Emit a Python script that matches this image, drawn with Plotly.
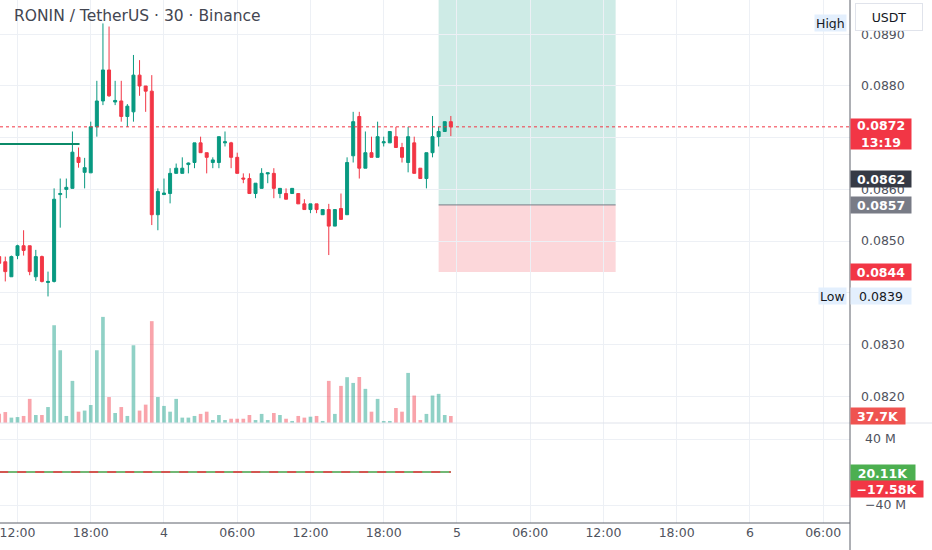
import pandas as pd
import plotly.graph_objects as go

FONT = "DejaVu Sans"
GREEN = "#089981"
RED = "#f23645"
GRID = "#edf0f5"
TEXT = "#50535e"

# --- data (30 min bars, RONIN/USDT) ---
times = pd.date_range("2024-08-03 10:30", periods=75, freq="30min")

opens = [0.08470, 0.08460, 0.08431, 0.08472, 0.08491, 0.08491, 0.08431, 0.08470, 0.08420, 0.08422,
         0.08590, 0.08600, 0.08602, 0.08662, 0.08633, 0.08632, 0.08721, 0.08771, 0.08831, 0.08769,
         0.08771, 0.08741, 0.08750, 0.08821, 0.08800, 0.08790, 0.08551, 0.08590, 0.08592, 0.08631,
         0.08631, 0.08648, 0.08652, 0.08690, 0.08671, 0.08652, 0.08652, 0.08690, 0.08690, 0.08662,
         0.08622, 0.08621, 0.08592, 0.08602, 0.08630, 0.08631, 0.08592, 0.08592, 0.08592, 0.08592,
         0.08572, 0.08561, 0.08572, 0.08551, 0.08561, 0.08529, 0.08563, 0.08551, 0.08665, 0.08741,
         0.08641, 0.08671, 0.08662, 0.08690, 0.08690, 0.08702, 0.08681, 0.08652, 0.08690, 0.08641,
         0.08621, 0.08671, 0.08702, 0.08712, 0.08731]
highs = [0.08475, 0.08470, 0.08472, 0.08493, 0.08521, 0.08491, 0.08483, 0.08472, 0.08441, 0.08602,
         0.08621, 0.08621, 0.08712, 0.08681, 0.08661, 0.08731, 0.08810, 0.08921, 0.08915, 0.08810,
         0.08810, 0.08765, 0.08860, 0.08850, 0.08800, 0.08821, 0.08602, 0.08621, 0.08641, 0.08650,
         0.08662, 0.08652, 0.08690, 0.08702, 0.08671, 0.08662, 0.08702, 0.08712, 0.08692, 0.08671,
         0.08631, 0.08631, 0.08612, 0.08641, 0.08632, 0.08641, 0.08602, 0.08602, 0.08602, 0.08592,
         0.08581, 0.08572, 0.08572, 0.08561, 0.08572, 0.08561, 0.08592, 0.08662, 0.08750, 0.08750,
         0.08712, 0.08702, 0.08731, 0.08702, 0.08712, 0.08721, 0.08690, 0.08721, 0.08702, 0.08641,
         0.08671, 0.08742, 0.08721, 0.08731, 0.08742]
lows = [0.08455, 0.08422, 0.08431, 0.08465, 0.08472, 0.08434, 0.08423, 0.08420, 0.08393, 0.08420,
        0.08526, 0.08583, 0.08602, 0.08642, 0.08602, 0.08632, 0.08702, 0.08763, 0.08779, 0.08763,
        0.08731, 0.08721, 0.08731, 0.08781, 0.08750, 0.08531, 0.08521, 0.08590, 0.08573, 0.08631,
        0.08631, 0.08631, 0.08641, 0.08671, 0.08631, 0.08641, 0.08641, 0.08683, 0.08641, 0.08631,
        0.08612, 0.08592, 0.08583, 0.08602, 0.08612, 0.08583, 0.08583, 0.08581, 0.08592, 0.08572,
        0.08561, 0.08554, 0.08554, 0.08551, 0.08473, 0.08529, 0.08542, 0.08551, 0.08652, 0.08621,
        0.08641, 0.08662, 0.08662, 0.08683, 0.08690, 0.08681, 0.08652, 0.08633, 0.08631, 0.08621,
        0.08602, 0.08662, 0.08683, 0.08712, 0.08703]
closes = [0.08457, 0.08441, 0.08470, 0.08491, 0.08482, 0.08441, 0.08470, 0.08422, 0.08422, 0.08581,
          0.08592, 0.08604, 0.08672, 0.08652, 0.08642, 0.08721, 0.08771, 0.08831, 0.08781, 0.08772,
          0.08741, 0.08761, 0.08821, 0.08800, 0.08790, 0.08551, 0.08596, 0.08593, 0.08631, 0.08641,
          0.08641, 0.08651, 0.08690, 0.08671, 0.08662, 0.08657, 0.08702, 0.08692, 0.08662, 0.08631,
          0.08620, 0.08592, 0.08612, 0.08631, 0.08632, 0.08602, 0.08602, 0.08581, 0.08602, 0.08572,
          0.08561, 0.08572, 0.08561, 0.08561, 0.08529, 0.08561, 0.08542, 0.08652, 0.08731, 0.08641,
          0.08671, 0.08662, 0.08702, 0.08692, 0.08712, 0.08681, 0.08662, 0.08702, 0.08631, 0.08621,
          0.08671, 0.08702, 0.08712, 0.08731, 0.08721]
# volume in thousands
volume_k = [50, 59, 29, 32, 38, 130, 43, 43, 86, 527,
            392, 38, 227, 61, 67, 97, 392, 572, 140, 54,
            86, 38, 419, 67, 99, 549, 140, 92, 61, 130,
            29, 29, 38, 49, 61, 16, 43, 16, 23, 23,
            23, 43, 16, 49, 16, 54, 43, 23, 11, 38,
            29, 34, 38, 11, 227, 49, 200, 247, 216, 248,
            184, 61, 130, 11, 11, 81, 61, 270, 148, 16,
            49, 148, 157, 43, 37.7]
# lower pane (buy / sell volume, thousands)
buy_k = [22, 25, 18, 20, 15, 60, 25, 18, 48, 300,
         210, 22, 130, 26, 38, 55, 230, 320, 62, 30,
         40, 22, 240, 30, 45, 230, 80, 50, 33, 72,
         16, 17, 22, 24, 28, 9, 24, 9, 11, 11,
         11, 20, 9, 27, 9, 25, 23, 11, 6, 18,
         13, 18, 18, 6, 105, 27, 95, 140, 120, 115,
         100, 30, 70, 6, 6, 38, 29, 150, 70, 8,
         27, 80, 85, 23, 20.11]
sell_k = [-28, -34, -11, -12, -23, -70, -18, -25, -38, -227,
          -182, -16, -97, -35, -29, -42, -162, -252, -78, -24,
          -46, -16, -179, -37, -54, -319, -60, -42, -28, -58,
          -13, -12, -16, -25, -33, -7, -19, -7, -12, -12,
          -12, -23, -7, -22, -7, -29, -20, -12, -5, -20,
          -16, -16, -20, -5, -122, -22, -105, -107, -96, -133,
          -84, -31, -60, -5, -5, -43, -32, -120, -78, -8,
          -22, -68, -72, -20, -17.58]

tick_times = ["2024-08-03 12:00", "2024-08-03 18:00", "2024-08-04 00:00", "2024-08-04 06:00",
              "2024-08-04 12:00", "2024-08-04 18:00", "2024-08-05 00:00", "2024-08-05 06:00",
              "2024-08-05 12:00", "2024-08-05 18:00", "2024-08-06 00:00", "2024-08-06 06:00"]
tick_text = ["12:00", "18:00", "4", "06:00", "12:00", "18:00", "5", "06:00", "12:00", "18:00", "6", "06:00"]
price_ticks = [0.0820, 0.0830, 0.0840, 0.0850, 0.0860, 0.0870, 0.0880, 0.0890]

# drawings on the chart
entry_price = 0.0857
stop_price = 0.0844
target_price = 0.0900
position_start = "2024-08-04 22:30"
position_end = "2024-08-05 13:00"
line_price = 0.0862
trend_y = 0.08688
trend_start = "2024-08-03 10:00"
trend_end = "2024-08-03 17:05"
countdown = "13:19"

vol_colors = ["rgba(8,153,129,0.45)" if c >= o else "rgba(242,54,69,0.45)"
              for o, c in zip(opens, closes)]

fig = go.Figure()
fig.add_trace(go.Bar(x=times, y=volume_k, marker=dict(color=vol_colors, line=dict(width=0)),
                     width=1000 * 60 * 18, yaxis="y2", hoverinfo="skip"))
fig.add_trace(go.Candlestick(x=times, open=opens, high=highs, low=lows, close=closes,
                             increasing=dict(line=dict(color=GREEN, width=1), fillcolor=GREEN),
                             decreasing=dict(line=dict(color=RED, width=1), fillcolor=RED),
                             whiskerwidth=0))
fig.add_trace(go.Scatter(x=times, y=buy_k, mode="lines", line=dict(color="#43a047", width=1.5),
                         yaxis="y3"))
fig.add_trace(go.Scatter(x=times, y=sell_k, mode="lines", line=dict(color=RED, width=1.5, dash="dash"),
                         yaxis="y3"))

split = 100 / 523  # lower pane height / plot height
fig.update_layout(
    width=932, height=550,
    margin=dict(l=0, r=82, t=0, b=27),
    paper_bgcolor="white", plot_bgcolor="white",
    showlegend=False, boxgap=0.3,
    font=dict(family=FONT, size=12.5, color=TEXT),
    xaxis=dict(type="date", anchor="y3", range=["2024-08-03 10:34", "2024-08-06 08:12"],
               tickvals=tick_times, ticktext=tick_text, showgrid=True, gridcolor=GRID,
               zeroline=False, showline=False, ticks="", rangeslider=dict(visible=False),
               ticklabeloverflow="allow",
               tickfont=dict(family=FONT, size=12.5, color=TEXT)),
    yaxis=dict(domain=[split, 1], side="right", range=[0.081482, 0.089663], tickvals=price_ticks,
               tickformat=".4f", showgrid=True, gridcolor=GRID, zeroline=False, ticks="",
               ticklabelstandoff=10),
    yaxis2=dict(overlaying="y", range=[0, 2280], visible=False),
    yaxis3=dict(domain=[0, split], side="right", range=[-61800, 59400], tickvals=[40000, -40000],
                ticktext=["40 M", "\u221240 M"], showgrid=True, gridcolor=GRID, zeroline=False,
                ticks="", ticklabelstandoff=14),
)

# position tool
fig.add_shape(type="rect", xref="x", yref="y", x0=position_start, x1=position_end,
              y0=entry_price, y1=target_price, fillcolor="rgba(8,153,129,0.2)", line_width=0, layer="below")
fig.add_shape(type="rect", xref="x", yref="y", x0=position_start, x1=position_end,
              y0=stop_price, y1=entry_price, fillcolor="rgba(242,54,69,0.2)", line_width=0, layer="below")
fig.add_shape(type="line", xref="x", yref="y", x0=position_start, x1=position_end,
              y0=entry_price, y1=entry_price, line=dict(color="#787b86", width=1))
# trend line
fig.add_shape(type="line", xref="x", yref="y", x0=trend_start, x1=trend_end, y0=trend_y, y1=trend_y,
              line=dict(color="#0b8a68", width=2))
# last price line
fig.add_shape(type="line", xref="paper", yref="y", x0=0, x1=1, y0=closes[-1], y1=closes[-1],
              line=dict(color=RED, width=1, dash="dot"))
# pane separator, axis borders
fig.add_shape(type="line", xref="paper", yref="paper", x0=0, x1=932 / 850, y0=split, y1=split,
              line=dict(color="#e0e3eb", width=1))
fig.add_shape(type="line", xref="paper", yref="paper", x0=0, x1=1, y0=0, y1=0,
              line=dict(color="#5d606b", width=1))
fig.add_shape(type="line", xref="paper", yref="paper", x0=1, x1=1, y0=-27 / 523, y1=1,
              line=dict(color="#5d606b", width=1))

# title
fig.add_annotation(x=12 / 850, y=1, xref="paper", yref="paper", xanchor="left", yanchor="top",
                   yshift=-5, text="RONIN / TetherUS · 30 · Binance", showarrow=False,
                   font=dict(family=FONT, size=15.5, color="#434651"))

# USDT box
fig.add_annotation(x=1, xref="paper", xanchor="left", xshift=5, y=1, yref="paper", yanchor="top",
                   yshift=-3, text="USDT", showarrow=False, bgcolor="white", bordercolor="#e0e3eb",
                   borderwidth=1, width=64, height=24, font=dict(family=FONT, size=12.5, color="#131722"))


def axis_label(text, y, yref, bg, fg="white", yshift=0, width=58, height=14):
    fig.add_annotation(x=1, xref="paper", xanchor="left", y=y, yref=yref, yanchor="middle",
                       yshift=yshift, text=text, showarrow=False, bgcolor=bg, width=width,
                       height=height, borderpad=1, align="center",
                       font=dict(family=FONT, size=12.5, color=fg))


def plot_label(text, y):
    fig.add_annotation(x=1, xref="paper", xanchor="right", xshift=-3, y=y, yref="y", yanchor="middle",
                       text=text, showarrow=False, bgcolor="#e3effd", height=14, borderpad=1,
                       font=dict(family=FONT, size=12.5, color="#131722"))


axis_label("<b>%.4f</b><br><b>%s</b>" % (closes[-1], countdown), closes[-1], "y", RED,
           yshift=-7, height=28)
axis_label("<b>%.4f</b>" % line_price, line_price, "y", "#363a45")
axis_label("<b>%.4f</b>" % entry_price, entry_price, "y", "#787b86")
axis_label("<b>%.4f</b>" % stop_price, stop_price, "y", RED)
axis_label("%.4f" % min(lows), min(lows), "y", "#e3effd", fg="#131722")
plot_label("High", max(highs))
plot_label("Low", min(lows))
axis_label("<b>%.1fK</b>" % volume_k[-1], volume_k[-1], "y2", "#ef5350", width=52)
axis_label("<b>%.2fK</b>" % buy_k[-1], 0, "y3", "#4caf50", yshift=-1, width=62)
axis_label("<b>\u2212%.2fK</b>" % abs(sell_k[-1]), 0, "y3", RED, yshift=-17, width=70)

# page has a default 8px body margin; drop it so the figure sits at the window corner
fig.write_html("out.html", config={"displayModeBar": False},
               post_script="document.body.style.margin='0';")
